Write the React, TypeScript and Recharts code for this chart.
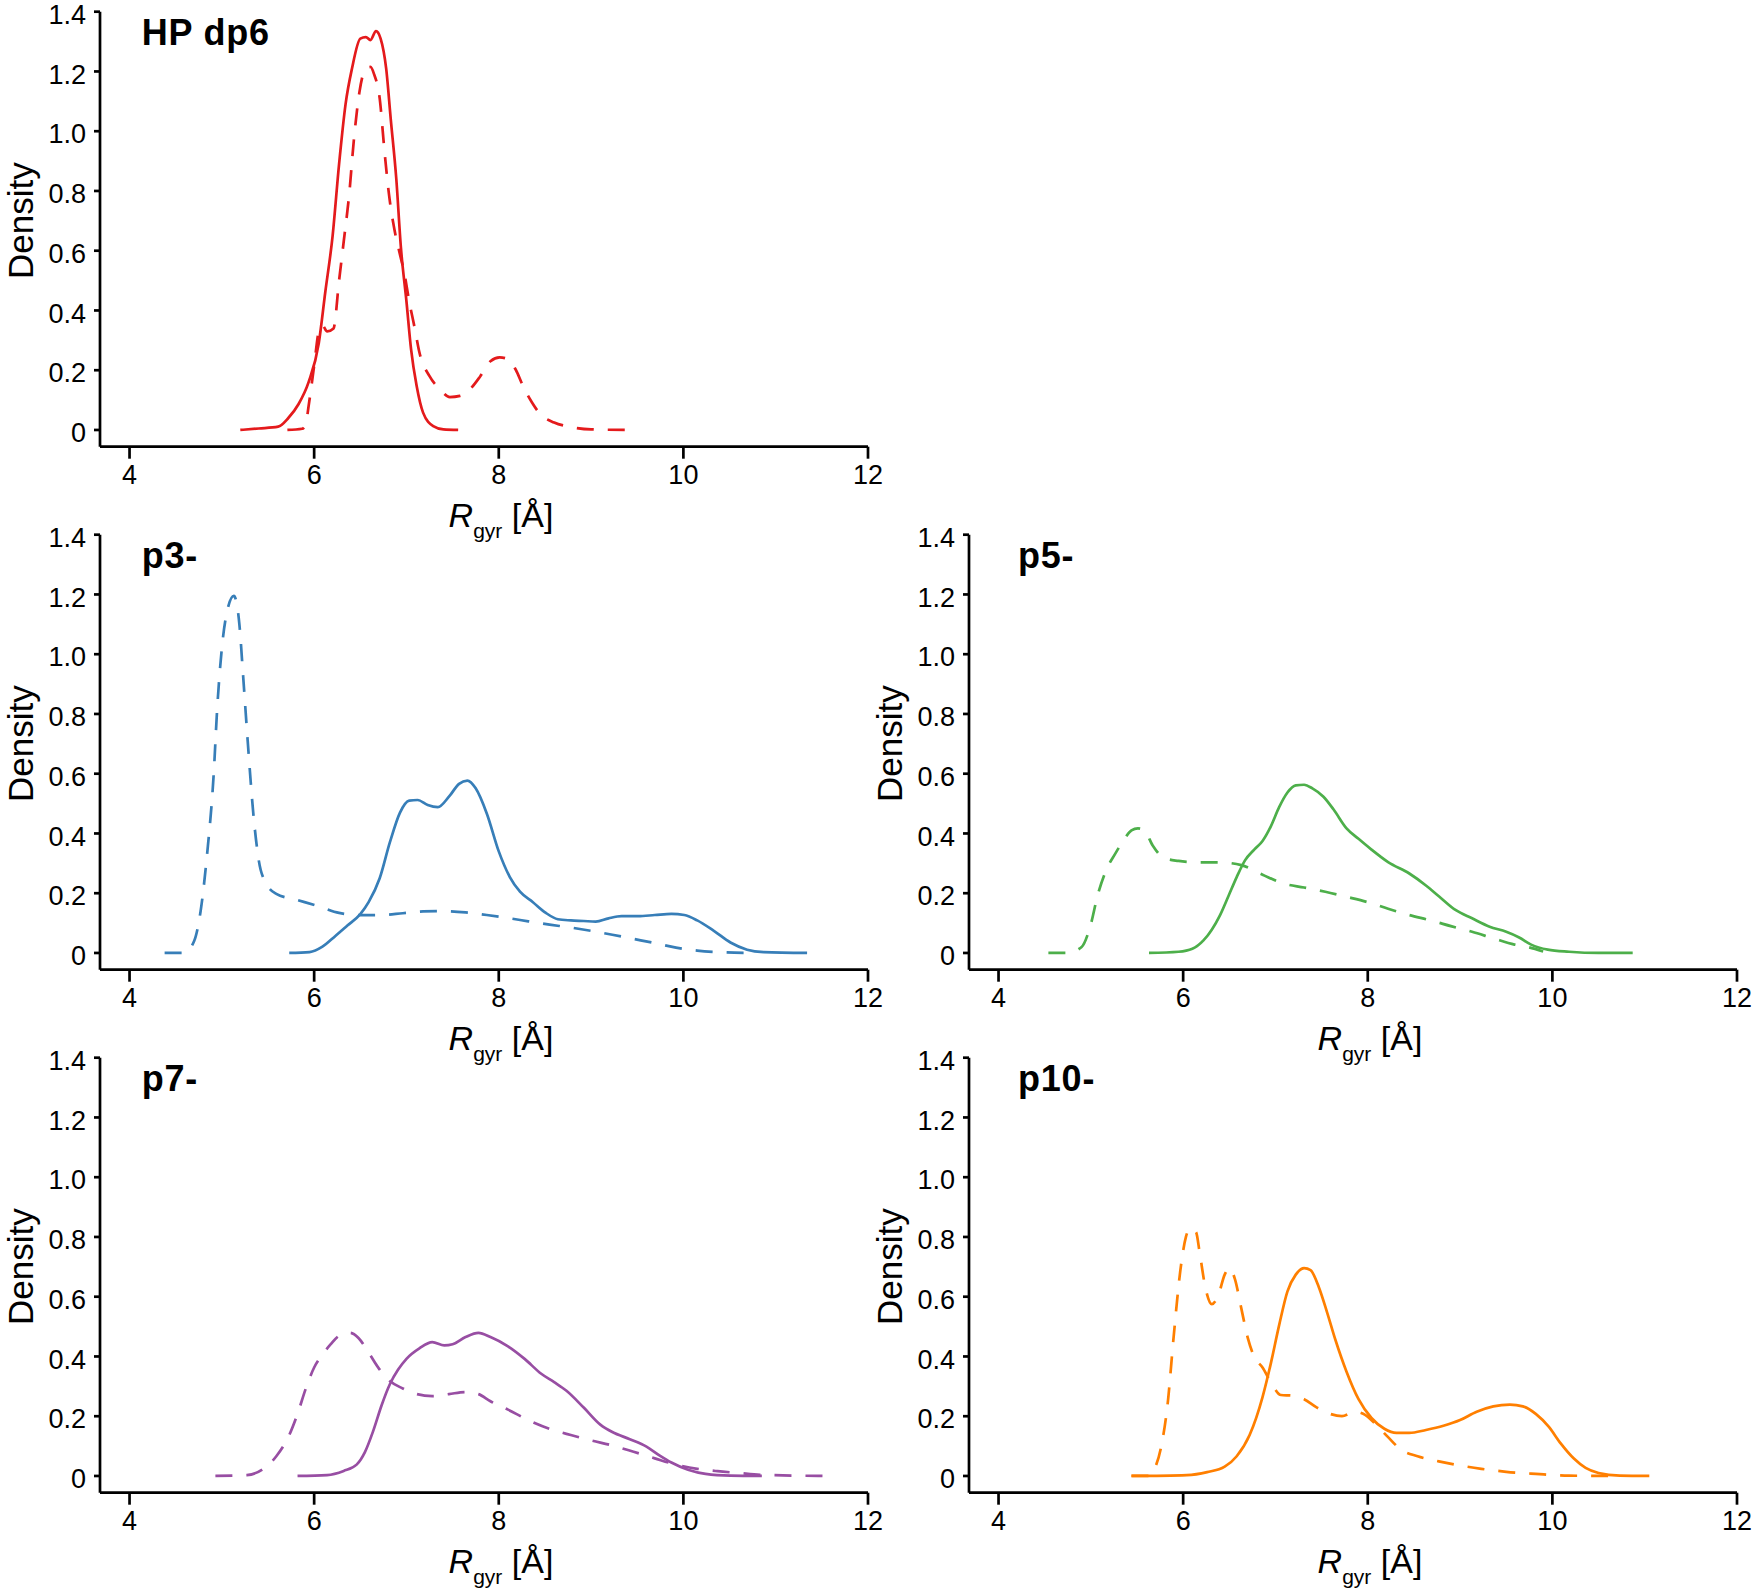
import React from 'react';
import { LineChart, Line, XAxis, YAxis, Label } from 'recharts';

// ---------- axis ticks ----------
const X_TICKS = [4, 6, 8, 10, 12];
const Y_TICKS = [0, 0.2, 0.4, 0.6, 0.8, 1.0, 1.2, 1.4];

// ---------- HP dp6 ----------
const hpSolidX = [5.2, 5.4, 5.61, 5.72, 5.83, 5.94, 6.05, 6.12, 6.2, 6.27, 6.34, 6.41, 6.5, 6.56, 6.61, 6.67, 6.72, 6.78, 6.83, 6.89, 6.94, 7.0, 7.05, 7.11, 7.18, 7.29, 7.4, 7.56];
const hpSolidY = [0, 0.005, 0.011, 0.04, 0.086, 0.16, 0.29, 0.46, 0.65, 0.89, 1.09, 1.21, 1.31, 1.315, 1.305, 1.335, 1.31, 1.21, 1.04, 0.84, 0.61, 0.43, 0.27, 0.148, 0.058, 0.013, 0.002, 0];
const hpDashX = [5.71, 5.87, 5.91, 5.94, 6.0, 6.05, 6.09, 6.14, 6.21, 6.27, 6.32, 6.38, 6.43, 6.49, 6.56, 6.61, 6.65, 6.71, 6.76, 6.81, 6.87, 6.92, 6.98, 7.03, 7.09, 7.14, 7.25, 7.36, 7.47, 7.58, 7.69, 7.8, 7.91, 8.01, 8.1, 8.18, 8.27, 8.36, 8.45, 8.6, 8.78, 9.0, 9.38];
const hpDashY = [0, 0.004, 0.02, 0.08, 0.215, 0.33, 0.35, 0.33, 0.34, 0.5, 0.63, 0.79, 0.97, 1.13, 1.21, 1.215, 1.19, 1.11, 0.94, 0.79, 0.67, 0.6, 0.52, 0.43, 0.34, 0.26, 0.18, 0.137, 0.11, 0.114, 0.137, 0.18, 0.23, 0.243, 0.237, 0.204, 0.142, 0.092, 0.053, 0.025, 0.01, 0.002, 0];

// ---------- p3- ----------
const p3SolidX = [5.73, 5.95, 6.09, 6.23, 6.36, 6.5, 6.59, 6.71, 6.82, 6.93, 7.03, 7.12, 7.23, 7.34, 7.46, 7.57, 7.66, 7.75, 7.87, 8.0, 8.12, 8.23, 8.37, 8.51, 8.64, 8.78, 8.92, 9.05, 9.19, 9.33, 9.51, 9.69, 9.87, 10.01, 10.15, 10.33, 10.51, 10.69, 10.87, 11.34];
const p3SolidY = [0, 0.003, 0.021, 0.057, 0.092, 0.13, 0.17, 0.25, 0.37, 0.47, 0.51, 0.512, 0.495, 0.488, 0.523, 0.566, 0.577, 0.551, 0.467, 0.34, 0.254, 0.205, 0.17, 0.134, 0.113, 0.109, 0.107, 0.105, 0.116, 0.123, 0.123, 0.127, 0.131, 0.127, 0.109, 0.074, 0.035, 0.011, 0.003, 0];
const p3DashX = [4.38, 4.59, 4.7, 4.77, 4.84, 4.91, 4.95, 5.0, 5.07, 5.13, 5.19, 5.23, 5.28, 5.34, 5.4, 5.48, 5.59, 5.82, 6.05, 6.27, 6.5, 6.73, 6.96, 7.18, 7.41, 7.64, 7.87, 8.1, 8.32, 8.55, 8.78, 9.0, 9.23, 9.46, 9.69, 9.92, 10.15, 10.37, 10.75];
const p3DashY = [0, 0, 0.04, 0.14, 0.33, 0.59, 0.82, 1.02, 1.16, 1.195, 1.1, 0.93, 0.71, 0.47, 0.31, 0.233, 0.198, 0.177, 0.156, 0.134, 0.127, 0.127, 0.133, 0.139, 0.14, 0.136, 0.127, 0.117, 0.106, 0.095, 0.085, 0.074, 0.061, 0.047, 0.033, 0.018, 0.008, 0.003, 0];

// ---------- p5- ----------
const p5SolidX = [5.63, 5.95, 6.1, 6.22, 6.31, 6.4, 6.49, 6.58, 6.67, 6.77, 6.86, 6.95, 7.04, 7.13, 7.22, 7.31, 7.4, 7.52, 7.63, 7.77, 7.9, 8.04, 8.22, 8.45, 8.63, 8.77, 8.95, 9.13, 9.32, 9.5, 9.64, 9.77, 9.95, 10.18, 10.5, 10.87];
const p5SolidY = [0, 0.004, 0.014, 0.042, 0.078, 0.127, 0.19, 0.254, 0.31, 0.346, 0.375, 0.424, 0.488, 0.537, 0.561, 0.563, 0.551, 0.523, 0.48, 0.417, 0.382, 0.346, 0.304, 0.266, 0.226, 0.19, 0.144, 0.116, 0.088, 0.071, 0.052, 0.028, 0.011, 0.004, 0, 0];
const p5DashX = [4.54, 4.74, 4.9, 4.99, 5.08, 5.17, 5.26, 5.35, 5.44, 5.51, 5.58, 5.67, 5.79, 5.95, 6.17, 6.4, 6.63, 6.86, 7.08, 7.31, 7.54, 7.77, 8.0, 8.22, 8.45, 8.68, 8.91, 9.13, 9.36, 9.59, 9.73, 9.9];
const p5DashY = [0, 0, 0.02, 0.085, 0.2, 0.28, 0.33, 0.375, 0.41, 0.417, 0.41, 0.36, 0.318, 0.308, 0.303, 0.303, 0.294, 0.262, 0.233, 0.219, 0.205, 0.188, 0.17, 0.148, 0.127, 0.109, 0.089, 0.071, 0.049, 0.028, 0.02, 0.005];

// ---------- p7- ----------
const p7SolidX = [5.82, 6.14, 6.32, 6.46, 6.55, 6.64, 6.73, 6.82, 6.91, 7.0, 7.14, 7.28, 7.41, 7.5, 7.64, 7.78, 7.91, 8.1, 8.28, 8.46, 8.6, 8.73, 8.92, 9.1, 9.23, 9.42, 9.6, 9.74, 9.87, 10.05, 10.24, 10.51, 10.85];
const p7SolidY = [0, 0.003, 0.017, 0.038, 0.08, 0.151, 0.236, 0.307, 0.356, 0.392, 0.427, 0.448, 0.437, 0.441, 0.465, 0.479, 0.465, 0.434, 0.392, 0.342, 0.314, 0.286, 0.229, 0.172, 0.147, 0.123, 0.098, 0.069, 0.045, 0.021, 0.007, 0.001, 0];
const p7DashX = [4.93, 5.27, 5.45, 5.59, 5.73, 5.82, 5.91, 6.0, 6.09, 6.18, 6.27, 6.39, 6.48, 6.59, 6.71, 6.82, 6.96, 7.09, 7.28, 7.46, 7.64, 7.78, 7.91, 8.1, 8.32, 8.55, 8.78, 9.0, 9.23, 9.46, 9.69, 9.92, 10.15, 10.37, 10.6, 10.83, 11.59];
const p7DashY = [0, 0.003, 0.024, 0.066, 0.137, 0.208, 0.293, 0.363, 0.406, 0.441, 0.469, 0.479, 0.462, 0.413, 0.356, 0.318, 0.293, 0.276, 0.267, 0.274, 0.281, 0.274, 0.25, 0.222, 0.187, 0.158, 0.137, 0.119, 0.102, 0.081, 0.059, 0.038, 0.024, 0.016, 0.01, 0.004, 0];

// ---------- p10- ----------
const p10SolidX = [5.44, 6.04, 6.26, 6.45, 6.58, 6.72, 6.86, 6.95, 7.04, 7.13, 7.22, 7.31, 7.38, 7.47, 7.56, 7.65, 7.77, 7.9, 8.04, 8.18, 8.31, 8.45, 8.63, 8.82, 9.0, 9.18, 9.36, 9.54, 9.68, 9.82, 9.96, 10.09, 10.23, 10.36, 10.5, 10.73, 11.05];
const p10SolidY = [0, 0.003, 0.013, 0.031, 0.066, 0.137, 0.264, 0.377, 0.505, 0.618, 0.674, 0.696, 0.689, 0.632, 0.547, 0.455, 0.349, 0.257, 0.194, 0.158, 0.144, 0.144, 0.154, 0.168, 0.187, 0.215, 0.233, 0.239, 0.233, 0.208, 0.165, 0.109, 0.059, 0.027, 0.01, 0.001, 0];
const p10DashX = [5.44, 5.63, 5.69, 5.76, 5.83, 5.9, 5.97, 6.03, 6.08, 6.14, 6.18, 6.24, 6.31, 6.38, 6.45, 6.5, 6.56, 6.63, 6.7, 6.77, 6.86, 6.95, 7.06, 7.18, 7.31, 7.45, 7.59, 7.72, 7.86, 7.95, 8.09, 8.22, 8.36, 8.54, 8.77, 9.0, 9.23, 9.5, 9.82, 10.18, 10.68];
const p10DashY = [0, 0, 0.024, 0.095, 0.236, 0.476, 0.689, 0.8, 0.83, 0.816, 0.745, 0.632, 0.575, 0.604, 0.674, 0.696, 0.66, 0.561, 0.462, 0.399, 0.363, 0.314, 0.271, 0.269, 0.257, 0.229, 0.208, 0.2, 0.215, 0.208, 0.172, 0.13, 0.088, 0.066, 0.049, 0.035, 0.024, 0.014, 0.007, 0.001, 0];

const FONT = "'Liberation Sans', Arial, Helvetica, sans-serif";
const PAD = 20; // extra room above each chart so the top tick label is never clipped

const toPts = (xs: number[], ys: number[]) => xs.map((x, i) => ({ x, y: ys[i] }));

const fmtY = (v: number) => (v === 0 ? '0' : v.toFixed(1));

const YTick = (props: any) => {
  const { x, y, payload } = props;
  return (
    <text x={x} y={y + 2.5} dy="0.355em" textAnchor="end" fontFamily={FONT} fontSize={27} fill="#000">
      {fmtY(payload.value)}
    </text>
  );
};

const makeXTitle = () => (props: any) => {
  const vb = props.viewBox || {};
  const cx = vb.x + 401;
  const cy = vb.y + 80.5;
  return (
    <text x={cx} y={cy} textAnchor="middle" fontFamily={FONT} fill="#000">
      <tspan fontSize={34} fontStyle="italic">R</tspan>
      <tspan fontSize={21} dy={11}>gyr</tspan>
      <tspan fontSize={34} dy={-11}> [Å]</tspan>
    </text>
  );
};

const makeYTitle = (panelLabel: string, labelDx: number) => (props: any) => {
  const vb = props.viewBox || {};
  const x = vb.x + 33;
  const y = vb.y + 209;
  return (
    <g>
      <text x={x} y={y} transform={`rotate(-90, ${x}, ${y})`} textAnchor="middle" fontFamily={FONT} fontSize={35} fill="#000">
        Density
      </text>
      <text x={vb.x + labelDx} y={PAD + 45} textAnchor="start" fontFamily={FONT} fontSize={36} fontWeight="bold" letterSpacing={0.8} fill="#000">
        {panelLabel}
      </text>
    </g>
  );
};

type PanelProps = {
  left: number;
  top: number;
  label: string;
  labelDx: number;
  color: string;
  solidX: number[];
  solidY: number[];
  dashX: number[];
  dashY: number[];
};

const axisStyle = { stroke: '#000', strokeWidth: 2.7 };
const tickFont = { fill: '#000', fontSize: 27, fontFamily: FONT };

function Panel(p: PanelProps) {
  const solid = toPts(p.solidX, p.solidY);
  const dashed = toPts(p.dashX, p.dashY);
  return (
    <div style={{ position: 'absolute', left: p.left, top: p.top - PAD, width: 900, height: 570 }}>
      <LineChart width={900} height={570} margin={{ top: 11.7 + PAD, right: 32, bottom: 10, left: 0 }}>
        <XAxis
          type="number"
          dataKey="x"
          domain={[3.68, 12]}
          ticks={X_TICKS}
          allowDataOverflow
          interval={0}
          height={93.3}
          tickSize={12}
          tickMargin={6}
          axisLine={axisStyle}
          tickLine={axisStyle}
          tick={tickFont}
        >
          <Label content={makeXTitle()} />
        </XAxis>
        <YAxis
          type="number"
          domain={[-0.056, 1.4]}
          ticks={Y_TICKS}
          allowDataOverflow
          interval={0}
          width={100}
          tickSize={6}
          tickMargin={8}
          axisLine={axisStyle}
          tickLine={axisStyle}
          tick={<YTick />}
        >
          <Label content={makeYTitle(p.label, p.labelDx)} />
        </YAxis>
        <Line
          data={dashed}
          dataKey="y"
          type="monotone"
          stroke={p.color}
          strokeWidth={2.7}
          strokeDasharray="17 14"
          dot={false}
          activeDot={false}
          isAnimationActive={false}
        />
        <Line
          data={solid}
          dataKey="y"
          type="monotone"
          stroke={p.color}
          strokeWidth={2.7}
          dot={false}
          activeDot={false}
          isAnimationActive={false}
        />
      </LineChart>
    </div>
  );
}

const ROW = 522.9;
const COL = 869.3;

export default function App() {
  return (
    <div style={{ position: 'absolute', left: 0, top: 0, width: 1755, height: 1590, background: '#fff', overflow: 'hidden' }}>
      <Panel left={0} top={0} label="HP dp6" labelDx={141.7} color="#E41A1C" solidX={hpSolidX} solidY={hpSolidY} dashX={hpDashX} dashY={hpDashY} />
      <Panel left={0} top={ROW} label="p3-" labelDx={141.7} color="#377EB8" solidX={p3SolidX} solidY={p3SolidY} dashX={p3DashX} dashY={p3DashY} />
      <Panel left={COL} top={ROW} label="p5-" labelDx={149} color="#4DAF4A" solidX={p5SolidX} solidY={p5SolidY} dashX={p5DashX} dashY={p5DashY} />
      <Panel left={0} top={ROW * 2} label="p7-" labelDx={141.7} color="#984EA3" solidX={p7SolidX} solidY={p7SolidY} dashX={p7DashX} dashY={p7DashY} />
      <Panel left={COL} top={ROW * 2} label="p10-" labelDx={149} color="#FF7F00" solidX={p10SolidX} solidY={p10SolidY} dashX={p10DashX} dashY={p10DashY} />
    </div>
  );
}
